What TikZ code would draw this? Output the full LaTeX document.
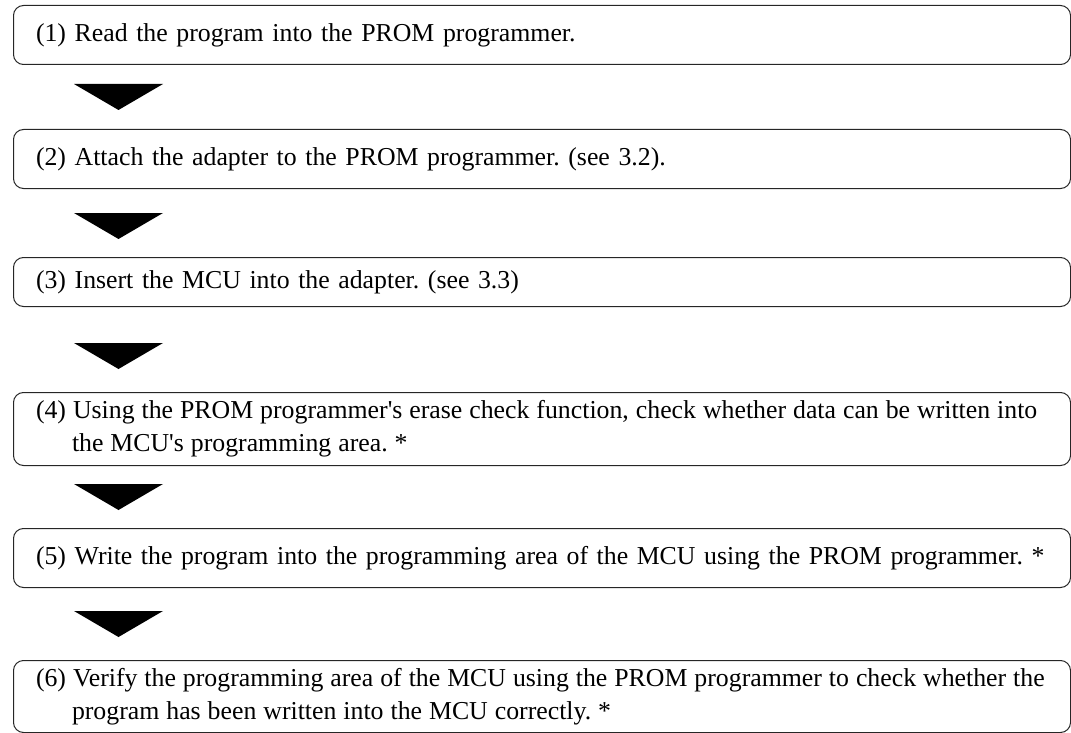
\documentclass[tikz,border=0pt]{standalone}
\usepackage{fontspec}
\setmainfont{Liberation Serif}
\usetikzlibrary{positioning}

\tikzset{
  stepbox/.style={draw=black!85, line width=1pt, rounded corners=10pt,
    text width=1050pt, inner xsep=3.5pt, inner ysep=3pt, align=left,
    anchor=north west, font=\fontsize{25.8}{33}\selectfont\frenchspacing,
    execute at begin node={\leftskip=19pt\rightskip=-20pt plus 1fil}},
  tightwords/.style={execute at begin node={\leftskip=19pt\rightskip=-20pt plus 1fil\spaceskip=0.27em}},
}

\begin{document}
\begin{tikzpicture}[x=1pt, y=1pt]
  \useasboundingbox (0,0) rectangle (1071,-733);
  \node (s1) [stepbox, minimum height=59pt] at (13,-5)
    {(1) Read the program into the PROM programmer.};
  \node (s2) [stepbox, minimum height=59pt] at (13,-129)
    {(2) Attach the adapter to the PROM programmer. (see 3.2).};
  \node (s3) [stepbox, minimum height=49pt] at (13,-257)
    {(3) Insert the MCU into the adapter. (see 3.3)};
  \node (s4) [stepbox, tightwords, minimum height=73pt] at (13,-392)
    {(4) Using the PROM programmer\textquotesingle s erase check function, check whether data can be written into\\
     \hspace*{36pt}the MCU\textquotesingle s programming area. *};
  \node (s5) [stepbox, minimum height=59pt] at (13,-528)
    {(5) Write the program into the programming area of the MCU using the PROM programmer. *};
  \node (s6) [stepbox, tightwords, minimum height=72pt] at (13,-660)
    {(6) Verify the programming area of the MCU using the PROM programmer to check whether the\\
     \hspace*{36pt}program has been written into the MCU correctly. *};
  % down arrows between the steps
  \foreach \y in {84,213,343,484,611}
    \fill (74,-\y) -- (163,-\y) -- (118.5,-\y-26) -- cycle;
\end{tikzpicture}
\end{document}
